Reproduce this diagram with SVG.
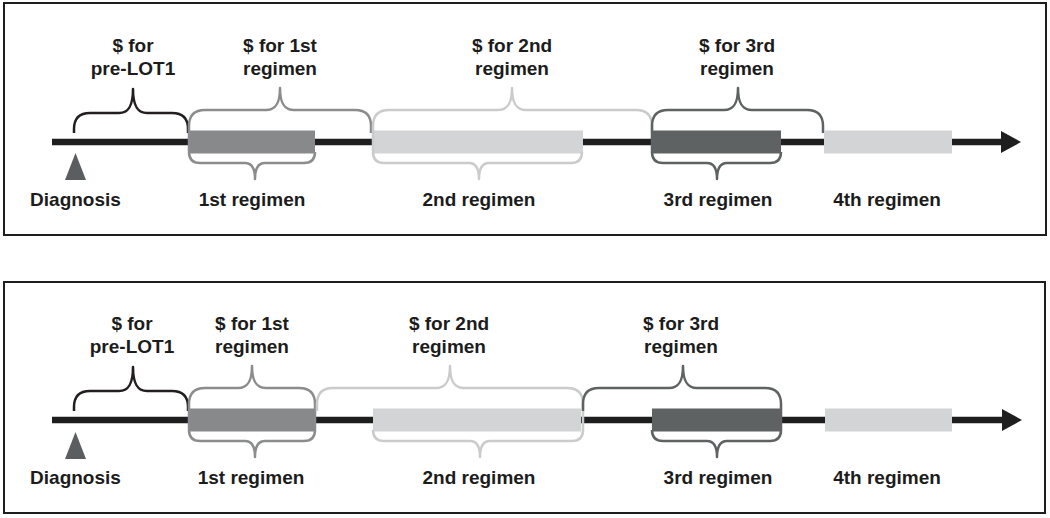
<svg xmlns="http://www.w3.org/2000/svg" width="1050" height="518" viewBox="0 0 1050 518">
<style>
.panel{fill:#fff;stroke:#1e1e1e;stroke-width:2}
.t{font-family:"Liberation Sans",Arial,sans-serif;font-weight:bold;font-size:19px;fill:#1c1c1c;text-anchor:middle}
.br{fill:none;stroke-width:2.5;stroke-linecap:butt;stroke-linejoin:round}
.k{stroke:#231f20}.g1{stroke:#8a8c8e}.g2{stroke:#cacbcc}.g3{stroke:#5f6263}
.b1{fill:#87898b}.b2{fill:#d3d4d5}.b3{fill:#5f6263}.b4{fill:#d3d4d5}
.axis{stroke:#1e1e1e;stroke-width:6.5}
.tri{fill:#5b5e60}
</style>
<defs>
<marker id="arr" viewBox="0 0 20 22" refX="0" refY="11" markerWidth="20" markerHeight="22" markerUnits="userSpaceOnUse" orient="auto">
<path d="M0,0 L20,11 L0,22 Z" fill="#1e1e1e"/>
</marker>
</defs>
<rect class="panel" x="4" y="3" width="1042" height="232"/>
<rect class="panel" x="4" y="282" width="1041" height="231"/>

<g id="panel-top">
<g id="connectors-top"><line class="axis" x1="52" y1="142" x2="1001" y2="142" marker-end="url(#arr)"/></g>
<g id="top-diagnosis"><polygon class="tri" points="65,180 86,180 75.5,153"/><text class="t" x="75.5" y="206">Diagnosis</text></g>
<g id="top-prelot1"><path class="br k" d="M74,133 L74,129 Q74,113 90,113 L119,113 C129,113 133,105 133,89 C133,105 137,113 147,113 L172,113 Q188,113 188,129 L188,133"/><text class="t" x="133" y="52">$ for</text><text class="t" x="133" y="75">pre-LOT1</text></g>
<g id="top-reg1"><rect class="b1" x="189" y="130.5" width="126" height="23"/>
<path class="br g1" d="M189,142 L189,126 Q189,110 205,110 L266,110 C276,110 280,103 280,88 C280,103 284,110 294,110 L355,110 Q371,110 371,126 L371,133"/>
<path class="br g1" d="M189,142 L189,152 Q189,163 200,163 L245,163 C252,163 255,168 255,179 C255,168 258,163 265,163 L304,163 Q315,163 315,152"/>
<text class="t" x="280" y="52">$ for 1st</text><text class="t" x="280" y="75">regimen</text><text class="t" x="252" y="206">1st regimen</text></g>
<g id="top-reg2"><rect class="b2" x="373" y="130.5" width="210" height="23"/>
<path class="br g2" d="M373,142 L373,126 Q373,110 389,110 L498,110 C508,110 512,103 512,88 C512,103 516,110 526,110 L636,110 Q652,110 652,126 L652,133"/>
<path class="br g2" d="M373,142 L373,152 Q373,163 384,163 L469,163 C476,163 479,168 479,179 C479,168 482,163 489,163 L571,163 Q582,163 582,152"/>
<text class="t" x="512" y="52">$ for 2nd</text><text class="t" x="512" y="75">regimen</text><text class="t" x="479" y="206">2nd regimen</text></g>
<g id="top-reg3"><rect class="b3" x="652" y="130.5" width="129" height="23"/>
<path class="br g3" d="M652,142 L652,126 Q652,110 668,110 L724,110 C734,110 738,103 738,88 C738,103 742,110 752,110 L807,110 Q823,110 823,126 L823,133"/>
<path class="br g3" d="M652,142 L652,152 Q652,163 663,163 L707,163 C714,163 717,168 717,179 C717,168 720,163 727,163 L770,163 Q781,163 781,152"/>
<text class="t" x="737" y="52">$ for 3rd</text><text class="t" x="737" y="75">regimen</text><text class="t" x="718" y="206">3rd regimen</text></g>
<g id="top-reg4"><rect class="b4" x="824" y="130.5" width="128" height="23"/><text class="t" x="887" y="206">4th regimen</text></g>
</g>

<g id="panel-bottom" transform="translate(0,278)">
<g id="connectors-bottom"><line class="axis" x1="52" y1="142" x2="1002" y2="142" marker-end="url(#arr)"/></g>
<g id="bot-diagnosis"><polygon class="tri" points="65,181 86,181 75.5,154"/><text class="t" x="75.5" y="206">Diagnosis</text></g>
<g id="bot-prelot1"><path class="br k" d="M74,133 L74,129 Q74,113 90,113 L119,113 C129,113 133,105 133,89 C133,105 137,113 147,113 L172,113 Q188,113 188,129 L188,133"/><text class="t" x="132" y="52">$ for</text><text class="t" x="132" y="75">pre-LOT1</text></g>
<g id="bot-reg1"><rect class="b1" x="189" y="130.5" width="126" height="23"/>
<path class="br g1" d="M189,142 L189,126 Q189,110 205,110 L238,110 C248,110 252,103 252,88 C252,103 256,110 266,110 L299,110 Q315,110 315,126 L315,142"/>
<path class="br g1" d="M189,142 L189,152 Q189,163 200,163 L245,163 C252,163 255,168 255,179 C255,168 258,163 265,163 L304,163 Q315,163 315,152 L315,142"/>
<text class="t" x="252" y="52">$ for 1st</text><text class="t" x="252" y="75">regimen</text><text class="t" x="251" y="206">1st regimen</text></g>
<g id="bot-reg2"><rect class="b2" x="373" y="130.5" width="208" height="23"/>
<path class="br g2" d="M317,133 L317,126 Q317,110 333,110 L436,110 C446,110 450,103 450,88 C450,103 454,110 464,110 L567,110 Q583,110 583,126 L583,142"/>
<path class="br g2" d="M373,152 Q373,163 384,163 L470,163 C477,163 480,168 480,179 C480,168 483,163 490,163 L572,163 Q583,163 583,152 L583,142"/>
<text class="t" x="449" y="52">$ for 2nd</text><text class="t" x="449" y="75">regimen</text><text class="t" x="479" y="206">2nd regimen</text></g>
<g id="bot-reg3"><rect class="b3" x="652" y="130.5" width="129" height="23"/>
<path class="br g3" d="M583,133 L583,126 Q583,110 599,110 L669,110 C679,110 683,103 683,88 C683,103 687,110 697,110 L765,110 Q781,110 781,126 L781,142"/>
<path class="br g3" d="M652,152 Q652,163 663,163 L707,163 C714,163 717,168 717,179 C717,168 720,163 727,163 L770,163 Q781,163 781,152 L781,142"/>
<text class="t" x="681" y="52">$ for 3rd</text><text class="t" x="681" y="75">regimen</text><text class="t" x="718" y="206">3rd regimen</text></g>
<g id="bot-reg4"><rect class="b4" x="825" y="130.5" width="127" height="23"/><text class="t" x="887" y="206">4th regimen</text></g>
</g>
</svg>
